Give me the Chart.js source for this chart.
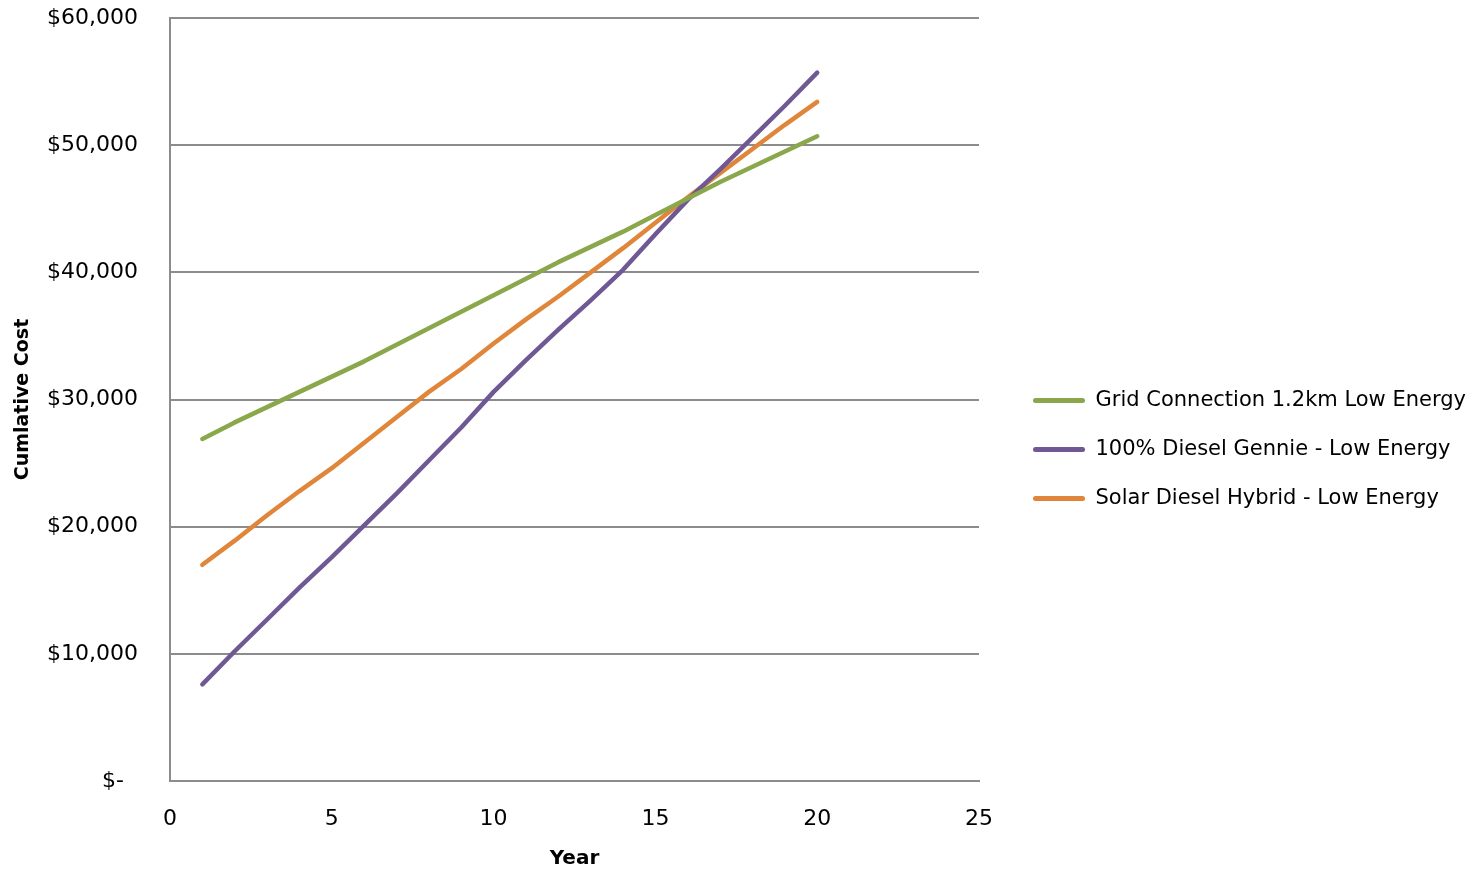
<!DOCTYPE html>
<html>
<head>
<meta charset="utf-8">
<script src="https://cdn.jsdelivr.net/npm/chart.js@4.4.1/dist/chart.umd.min.js"></script>
<style>
  body { margin: 0; background: #fff; }
  #wrap { width: 1481px; height: 871px; }
</style>
</head>
<body>
<div id="wrap"><canvas id="lineChart" width="1481" height="871"></canvas></div>
<script>
// data
const years = [1, 2, 3, 4, 5, 6, 7, 8, 9, 10, 11, 12, 13, 14, 15, 16, 17, 18, 19, 20];
const gridCost = [26900, 28200, 29400, 30600, 31800, 33000, 34300, 35600, 36900, 38200,
                  39500, 40800, 42000, 43200, 44500, 45800, 47100, 48300, 49500, 50700];
const dieselCost = [7600, 10200, 12700, 15200, 17600, 20100, 22600, 25200, 27800, 30600,
                    33100, 35500, 37800, 40200, 43000, 45700, 48100, 50600, 53100, 55700];
const hybridCost = [17000, 18900, 20900, 22800, 24600, 26600, 28600, 30600, 32400, 34400,
                    36300, 38100, 40000, 41900, 43900, 45900, 47800, 49700, 51600, 53400];
const seriesNames = ['Grid Connection 1.2km Low Energy', '100% Diesel Gennie - Low Energy', 'Solar Diesel Hybrid - Low Energy'];
const seriesColors = ['#8aa84b', '#6f5893', '#e0863a'];
const xTicks = [0, 5, 10, 15, 20, 25];
const yTicks = [0, 10000, 20000, 30000, 40000, 50000, 60000];

const FONT = "'DejaVu Sans', sans-serif";
const TICK_SIZE = 22;
const LEGEND_SIZE = 21;
const TITLE_SIZE = 19;

function pts(vals) {
  return years.map((y, i) => ({ x: y, y: vals[i] }));
}

const allSeries = [gridCost, dieselCost, hybridCost];

// the layout caps a side legend at a quarter of the canvas, so widen it by hand
// and nudge it to where the reference has it
const legendPlacer = {
  id: 'legendPlacer',
  beforeUpdate(chart) {
    const lg = chart.legend;
    if (lg && !lg._wrapped) {
      const origFit = lg.fit.bind(lg);
      lg.fit = function () { origFit(); this.width = 502; };
      lg._wrapped = true;
    }
  },
  afterLayout(chart) {
    const lg = chart.legend;
    lg.left += 26; lg.right += 26;
    lg.top += 14; lg.bottom += 14;
  }
};

new Chart(document.querySelector('#lineChart'), {
  type: 'line',
  data: {
    datasets: allSeries.map((vals, i) => ({
      label: seriesNames[i],
      data: pts(vals),
      borderColor: seriesColors[i],
      backgroundColor: seriesColors[i],
      borderWidth: 4.5,
      borderCapStyle: 'round',
      borderJoinStyle: 'round',
      pointRadius: 0,
      tension: 0,
      fill: false
    }))
  },
  plugins: [legendPlacer],
  options: {
    responsive: false,
    animation: false,
    layout: { padding: { top: 0, left: 8, right: 0, bottom: 0 } },
    plugins: {
      tooltip: { enabled: false },
      legend: {
        position: 'right',
        labels: {
          color: '#000',
          font: { family: FONT, size: LEGEND_SIZE },
          boxWidth: 52,
          boxHeight: 5,
          padding: 28,
          generateLabels: function (chart) {
            const items = Chart.defaults.plugins.legend.labels.generateLabels(chart);
            items.forEach(it => {
              it.lineWidth = 0;
              it.borderRadius = 2.5;
              it.fillStyle = it.strokeStyle;
            });
            return items;
          }
        }
      }
    },
    scales: {
      x: {
        type: 'linear',
        min: 0,
        max: 25,
        afterBuildTicks: function (scale) {
          scale.ticks = xTicks.map(v => ({ value: v }));
        },
        afterFit: function (scale) {
          scale.height = 90;
          scale.paddingLeft = 0;
          scale.paddingRight = 0;
        },
        grid: { display: false, drawTicks: false },
        border: { display: true, color: '#8c8c8c', width: 2 },
        ticks: {
          color: '#000',
          font: { family: FONT, size: TICK_SIZE },
          padding: 25,
          maxRotation: 0
        },
        title: {
          display: true,
          text: 'Year',
          color: '#000',
          font: { family: FONT, size: TITLE_SIZE + 1, weight: 'bold' },
          padding: { top: 4, bottom: 0 }
        }
      },
      y: {
        min: 0,
        max: 60000,
        afterBuildTicks: function (scale) {
          scale.ticks = yTicks.map(v => ({ value: v }));
        },
        afterFit: function (scale) {
          scale.width = 162;
          scale.paddingTop = 18;
          scale.paddingBottom = 0;
        },
        grid: { color: '#8c8c8c', lineWidth: 2, drawTicks: false },
        border: { display: true, color: '#8c8c8c', width: 2 },
        ticks: {
          color: '#000',
          font: { family: FONT, size: TICK_SIZE },
          padding: 32,
          callback: function (value) {
            if (value === 0) return '$-  ';
            return '$' + value.toLocaleString('en-US');
          }
        },
        title: {
          display: true,
          text: 'Cumlative Cost',
          color: '#000',
          font: { family: FONT, size: TITLE_SIZE, weight: 'bold' },
          padding: { bottom: 0 }
        }
      }
    }
  }
});
</script>
</body>
</html>
